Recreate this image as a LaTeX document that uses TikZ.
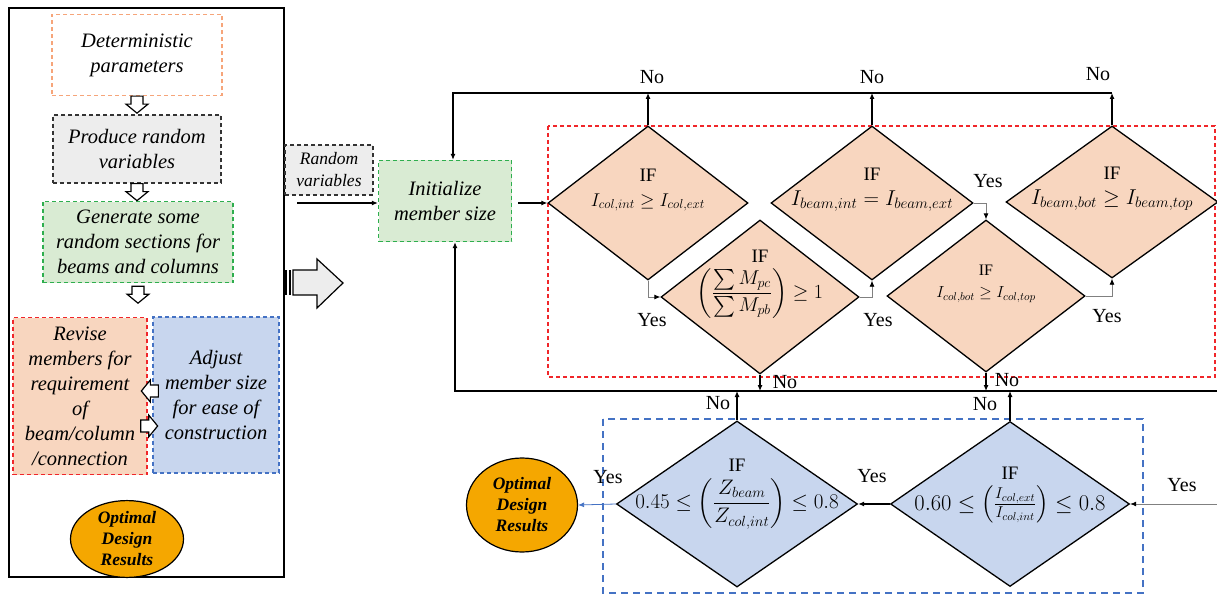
\RequirePackage{fix-cm}
\documentclass[tikz,border=0pt]{standalone}
\usepackage{amsmath}
\usepackage{fontspec}
\setmainfont{Liberation Serif}
\usetikzlibrary{shapes.geometric,arrows.meta}
\definecolor{peach}{HTML}{F8D6BF}
\definecolor{skyfill}{HTML}{C8D6EE}
\definecolor{leaf}{HTML}{D9EBD3}
\definecolor{greyfill}{HTML}{EDEDED}
\definecolor{amber}{HTML}{F5A700}
\definecolor{framered}{HTML}{F0262A}
\definecolor{frameblue}{HTML}{4472C4}
\definecolor{framegreen}{HTML}{2EAE4E}
\definecolor{frameorange}{HTML}{F6A57A}
\newcommand{\fsz}[1]{\fontsize{#1}{#1}\selectfont}
\tikzset{
  stepbox/.style={draw, dash pattern=on 4pt off 3pt, line width=1.3pt, align=center, inner sep=2pt,
    font=\fontsize{20.5}{25}\selectfont\itshape},
  cond/.style={diamond, draw, line width=1.3pt, fill=peach, inner sep=0pt, minimum width=200pt, minimum height=154pt},
  condtext/.style={align=center, yshift=14pt, font=\fontsize{19}{25}\selectfont},
  result/.style={ellipse, draw, line width=1.2pt, fill=amber, inner sep=0pt, align=center,
    font=\fontsize{17.5}{21}\selectfont\bfseries\itshape},
  flow/.style={-{Latex[length=6pt,width=5pt]}, line width=1.1pt},
  yesline/.style={-{Latex[length=6pt,width=5pt,color=black]}, gray, line width=0.8pt},
  lbl/.style={font=\fontsize{20}{24}\selectfont, inner sep=0pt},
  hdown/.pic={\draw[line width=1.2pt, fill=white] (-6,0) -- (6,0) -- (6,8) -- (11,8) -- (0,17) -- (-11,8) -- (-6,8) -- cycle;}
}
\begin{document}
\begin{tikzpicture}[x=1pt,y=-1pt]
    \useasboundingbox (0,0) rectangle (1217,596);
    % frames
    \draw[line width=2.2pt] (9,8) rectangle (284,577);
    \draw[framered, dash pattern=on 4pt off 3pt, line width=1.3pt] (548,126) rectangle (1215,377);
    \draw[frameblue, dash pattern=on 7pt off 5pt, line width=1.6pt] (603,419) rectangle (1143,593);
    % left column
    \node[stepbox, draw=frameorange, minimum width=170pt, minimum height=81pt] (det) at (137,55) {Deterministic\\parameters};
    \node[stepbox, draw=black!80, fill=greyfill, minimum width=168pt, minimum height=68pt] (prod) at (137,149) {Produce random\\variables};
    \node[stepbox, draw=framegreen, fill=leaf, minimum width=190pt, minimum height=81pt] (gen) at (138,242) {Generate some\\random sections for\\beams and columns};
    \node[stepbox, draw=framered, fill=peach, minimum width=134pt, minimum height=157pt] (rev) at (80,396) {Revise\\members for\\requirement\\of\\beam/column\\/connection};
    \node[stepbox, draw=frameblue, fill=skyfill, minimum width=126pt, minimum height=156pt] (adj) at (216,395) {Adjust\\member size\\for ease of\\construction};
    \node[result, minimum width=113pt, minimum height=76pt] (res1) at (127,539) {Optimal\\Design\\Results};
    \pic at (det.south) {hdown};
    \pic at (prod.south) {hdown};
    \pic at ([yshift=-3pt]gen.south) {hdown};
    \pic[rotate=-90] at ([xshift=6pt,yshift=4pt]adj.west) {hdown};
    \pic[rotate=90] at ([xshift=-7pt,yshift=-30pt]rev.east) {hdown};
    % big arrow
    \fill (284,270) rectangle (287,295);
    \fill (289,270) rectangle (291,295);
    \draw[line width=1.2pt, fill=greyfill] (293,270) -- (317,270) -- (317,259) -- (343,283) -- (317,308) -- (317,295) -- (293,295) -- cycle;
    % start
    \node[stepbox, draw=black!80, fill=greyfill, minimum width=88pt, minimum height=50pt, font=\fontsize{17.5}{22}\selectfont\itshape] (rv) at (329,170) {Random\\variables};
    \node[stepbox, draw=framegreen, fill=leaf, minimum width=133pt, minimum height=81pt] (init) at (445,201) {Initialize\\member size};
    % checks
    \node[cond, label={[condtext, yshift=-1pt]center:{IF\\\fsz{18.5}$I_{col,int}\geq I_{col,ext}$}}] (d1) at (648,203) {};
    \node[cond, minimum width=198pt, label={[condtext, yshift=-1pt]center:{IF\\[5pt]\fsz{20}$\left(\dfrac{\sum M_{pc}}{\sum M_{pb}}\right)\geq 1$}}] (d2) at (760,297) {};
    \node[cond, minimum width=202pt, label={[condtext, yshift=-1pt]center:{IF\\\fsz{21.5}$I_{beam,int}=I_{beam,ext}$}}] (d3) at (872,203) {};
    \node[cond, minimum width=198pt, minimum height=152pt, label={[condtext, yshift=-2pt, font=\fontsize{16}{22}\selectfont]center:{IF\\$I_{col,bot}\geq I_{col,top}$}}] (d4) at (986,296) {};
    \node[cond, minimum width=212pt, minimum height=152pt, label={[condtext, yshift=-1pt]center:{IF\\\fsz{21.5}$I_{beam,bot}\geq I_{beam,top}$}}] (d5) at (1112,202) {};
    \node[cond, fill=skyfill, minimum width=241pt, minimum height=166pt, label={[condtext, yshift=-4pt]center:{IF\\[6pt]\fsz{21}$0.45\leq\left(\dfrac{Z_{beam}}{Z_{col,int}}\right)\leq 0.8$}}] (d6) at (737,504) {};
    \node[cond, fill=skyfill, minimum width=239pt, minimum height=165pt, label={[condtext, yshift=-5pt]center:{IF\\[6pt]\fsz{22.5}$0.60\leq\left(\frac{I_{col,ext}}{I_{col,int}}\right)\leq 0.8$}}] (d7) at (1010,504) {};
    \node[result, minimum width=111pt, minimum height=94pt] (res2) at (522,505) {Optimal\\Design\\Results};
    % connectors
    \coordinate (rvin) at (297,203);
    \coordinate (tl) at (453,93);
    \coordinate (bl) at (455,391);
    \coordinate (br) at (1217,391);
    \coordinate (yin) at (1217,504);
    \draw[flow] (rvin) -- (rvin -| init.west);
    \draw[flow, shorten <=6pt] (init.east |- d1.west) -- (d1.west);
    \draw[flow] (d5.north |- tl) -- (tl) -- (tl |- init.north);
    \foreach \d in {d1,d3,d5} \draw[flow] (\d.north) -- (\d.north |- tl);
    \draw[flow] (br) -- (bl) -- (bl |- init.south);
    \foreach \d in {d2,d4} \draw[flow] (\d.south) -- (\d.south |- bl);
    \foreach \d in {d6,d7} \draw[flow] (\d.north) -- (\d.north |- bl);
    \draw[yesline] (d1.south) |- (d2.west);
    \draw[yesline] (d2.east) -| (d3.south);
    \draw[yesline] (d3.east) -| (d4.north);
    \draw[yesline] (d4.east) -| (d5.south);
    \draw[yesline] (yin) -- (d7.east);
    \draw[flow] (d7.west) -- (d6.east);
    \draw[flow, frameblue, line width=0.8pt] (d6.west) -- (res2.east);
    % labels
    \node[lbl] (no1) at (652,77) {No};
    \node[lbl] (no3) at (872,77) {No};
    \node[lbl] (no5) at (1098,74) {No};
    \node[lbl] (yes1) at (652,320) {Yes};
    \node[lbl] (yes2) at (878,320) {Yes};
    \node[lbl] (yes3) at (988,181) {Yes};
    \node[lbl] (yes4) at (1107,316) {Yes};
    \node[lbl] (no2) at (785,382) {No};
    \node[lbl] (no4) at (1007,380) {No};
    \node[lbl] (no6) at (718,403) {No};
    \node[lbl] (no7) at (985,404) {No};
    \node[lbl] (yes6) at (608,477) {Yes};
    \node[lbl] (yes7) at (872,476) {Yes};
    \node[lbl] (yesin) at (1182,485) {Yes};
\end{tikzpicture}
\end{document}
